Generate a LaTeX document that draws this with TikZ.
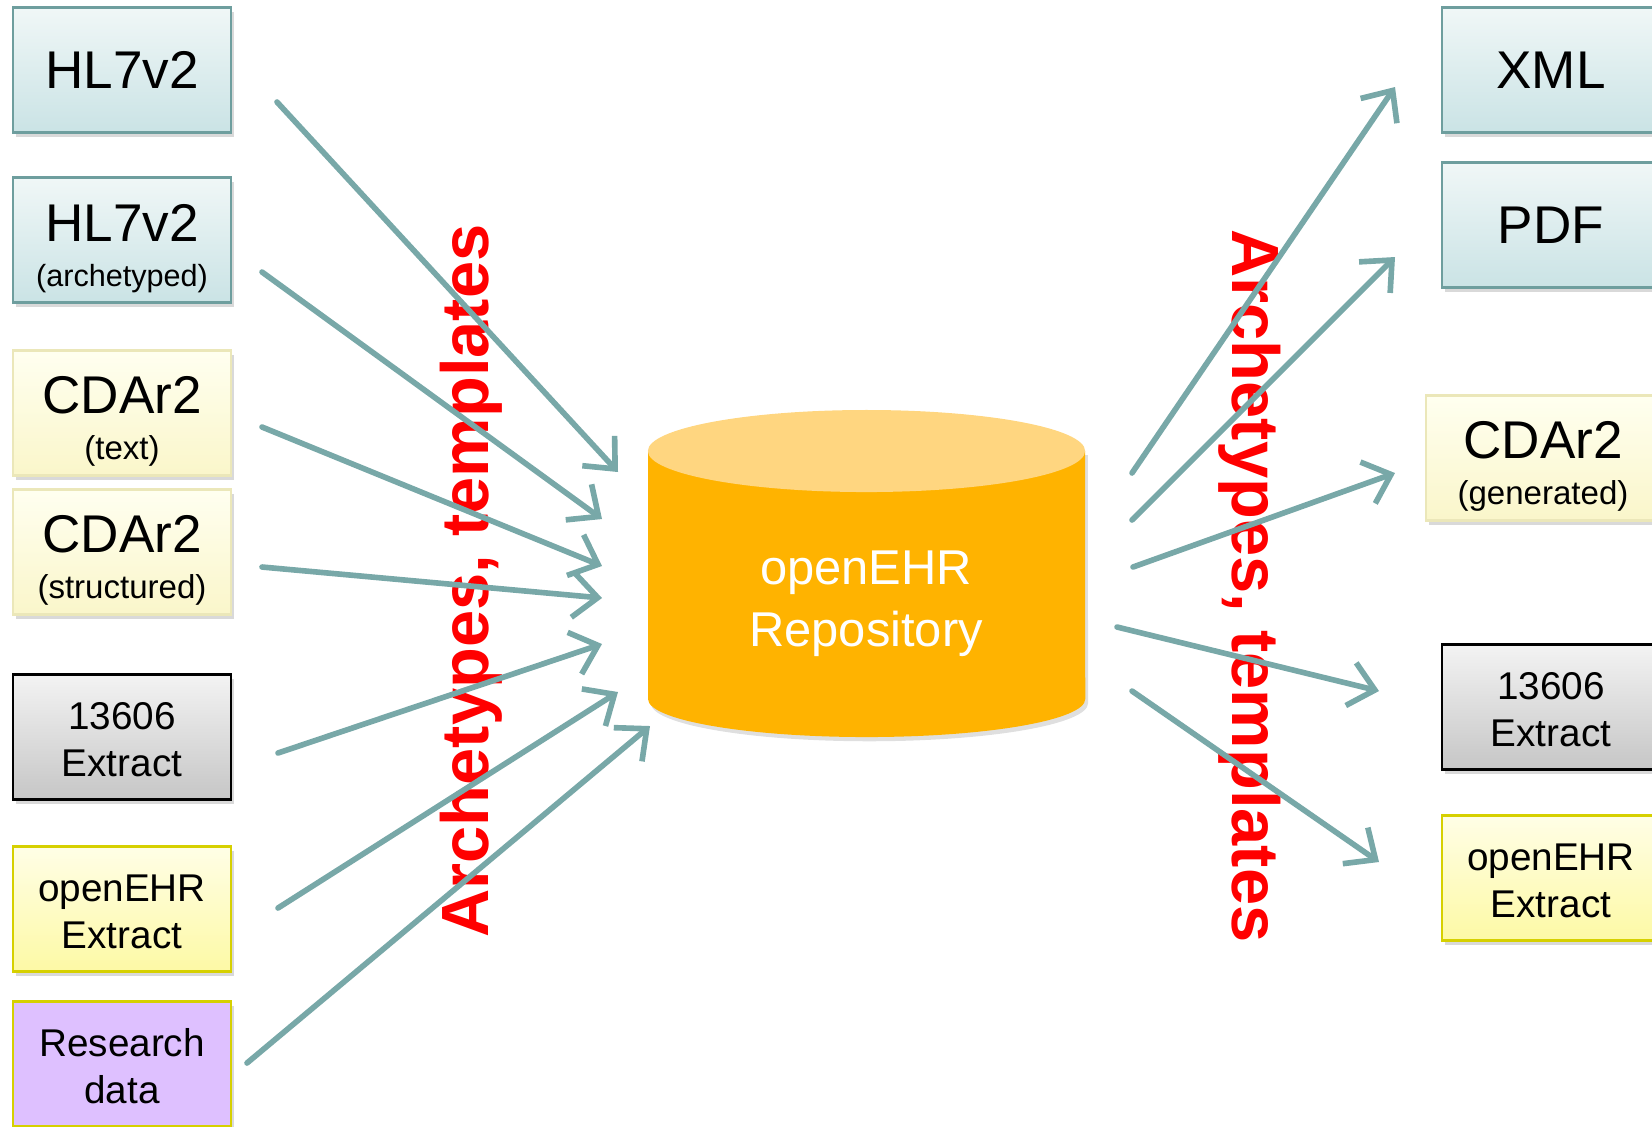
\documentclass[tikz,border=0pt]{standalone}
\usepackage{fontspec}
\setmainfont{Liberation Sans}
\usepackage{tikz}
\usetikzlibrary{positioning,
                arrows.meta,                % arrow tips
                shadows}                    % drop shadows under boxes

\definecolor{flowcol}{RGB}{120,168,168}
\definecolor{fmttop}{RGB}{240,247,247}
\definecolor{fmtbot}{RGB}{202,227,229}
\definecolor{fmtedge}{RGB}{110,158,158}
\definecolor{cdatop}{RGB}{255,255,240}
\definecolor{cdabot}{RGB}{250,246,202}
\definecolor{cdaedge}{RGB}{235,231,185}
\definecolor{ehrtop}{RGB}{255,254,230}
\definecolor{ehrbot}{RGB}{253,249,165}
\definecolor{ehredge}{RGB}{214,208,0}
\definecolor{isotop}{RGB}{243,243,243}
\definecolor{isobot}{RGB}{198,198,198}
\definecolor{resfill}{RGB}{222,192,255}
\definecolor{repobody}{RGB}{255,179,0}
\definecolor{repotop}{RGB}{255,214,128}

\newcommand{\bigname}{\fontsize{15.1}{13}\selectfont}
\newcommand{\subname}{\fontsize{9.4}{13}\selectfont}
\newcommand{\midname}{\fontsize{11}{13.4}\selectfont}
\newcommand{\topgap}{\rule{0pt}{15.5pt}}

\tikzset{
  box/.style={rectangle, minimum width=2.18cm, minimum height=1.25cm, inner sep=0pt,
              align=center, line width=0.7pt,
              drop shadow={opacity=0.3, shadow xshift=0.8pt, shadow yshift=-1.2pt}},
  fmtbox/.style={box, draw=fmtedge, top color=fmttop, bottom color=fmtbot, font=\bigname},
  cdabox/.style={box, draw=cdaedge, top color=cdatop, bottom color=cdabot, font=\bigname},
  isobox/.style={box, draw=black, top color=isotop, bottom color=isobot, font=\midname},
  ehrbox/.style={box, draw=ehredge, top color=ehrtop, bottom color=ehrbot, font=\midname},
  resbox/.style={box, draw=ehredge, fill=resfill, font=\midname},
  flow/.style={draw=flowcol, line width=1.6pt, line cap=round,
               -{Straight Barb[length=7pt, width=12.5pt]}},
  tagline/.style={text=red, inner sep=0pt, font=\fontsize{19}{22}\selectfont\bfseries},
}

\begin{document}
\begin{tikzpicture}[x=0.01cm, y=-0.01cm]
    \useasboundingbox (0,0) rectangle (1652,1126);
    \clip (0,0) rectangle (1652,1126);

    % repository
    \fill[repobody, drop shadow={opacity=0.25, shadow xshift=0.8pt, shadow yshift=-1.2pt}]
        (648,451) -- (648,699) arc[start angle=180, end angle=360, x radius=2.185cm, y radius=0.38cm]
        -- (1085,451) -- cycle;
    \fill[repotop] (866.5,451) ellipse[x radius=2.185cm, y radius=0.41cm];
    \node[text=white, align=center, font=\fontsize{13.9}{17.6}\selectfont] (repo) at (866,604) {openEHR\\Repository};

    % sources
    \node[fmtbox] (hl7)   at (122,70)   {HL7v2};
    \node[fmtbox] (hl7a)  at (122,240)  {\topgap HL7v2\\\fontsize{8.7}{13}\selectfont (archetyped)};
    \node[cdabox] (cdat)  at (122,413)  {\topgap CDAr2\\\subname (text)};
    \node[cdabox] (cdas)  at (122,552)  {\topgap CDAr2\\\subname (structured)};
    \node[isobox] (isoin) at (122,737)  {\rule{0pt}{9pt}13606\\Extract};
    \node[ehrbox] (ehrin) at (122,909)  {\rule{0pt}{9pt}openEHR\\Extract};
    \node[resbox] (resin) at (122,1064) {\rule{0pt}{9pt}Research\\data};

    % targets
    \node[fmtbox] (xml)    at (1551,70)  {XML};
    \node[fmtbox] (pdf)    at (1551,225) {PDF};
    \node[cdabox, minimum width=2.34cm] (cdag) at (1543,458) {\topgap CDAr2\\\subname (generated)};
    \node[isobox] (isoout) at (1551,707) {\rule{0pt}{9pt}13606\\Extract};
    \node[ehrbox] (ehrout) at (1551,878) {\rule{0pt}{9pt}openEHR\\Extract};

    \node[tagline, rotate=90, anchor=base]  (tagin)  at (488,581)  {Archetypes, templates};
    \node[tagline, rotate=-90, anchor=base] (tagout) at (1232,586) {Archetypes, templates};

    \foreach \n/\tx/\ty/\hx/\hy in {hl7/277/102/618/472, hl7a/262/272/602/519,
        cdat/262/427/602/566, cdas/262/567/602/598, isoin/278/753/602/644,
        ehrin/278/908/618/692, resin/247/1063/650/726,
        xml/1132/473/1395/87, pdf/1132/520/1395/257, cdag/1133/567/1395/473,
        isoout/1117/627/1379/691, ehrout/1132/691/1379/862}
    {
        \coordinate (\n-tail) at (\tx,\ty);
        \coordinate (\n-head) at (\hx,\hy);
    }

    \foreach \n in {hl7,hl7a,cdat,cdas,isoin,ehrin,resin}
        \draw[flow] (\n-tail) -- (\n-head);
    \foreach \n in {xml,pdf,cdag,isoout,ehrout}
        \draw[flow] (\n-tail) -- (\n-head);

\end{tikzpicture}
\end{document}
